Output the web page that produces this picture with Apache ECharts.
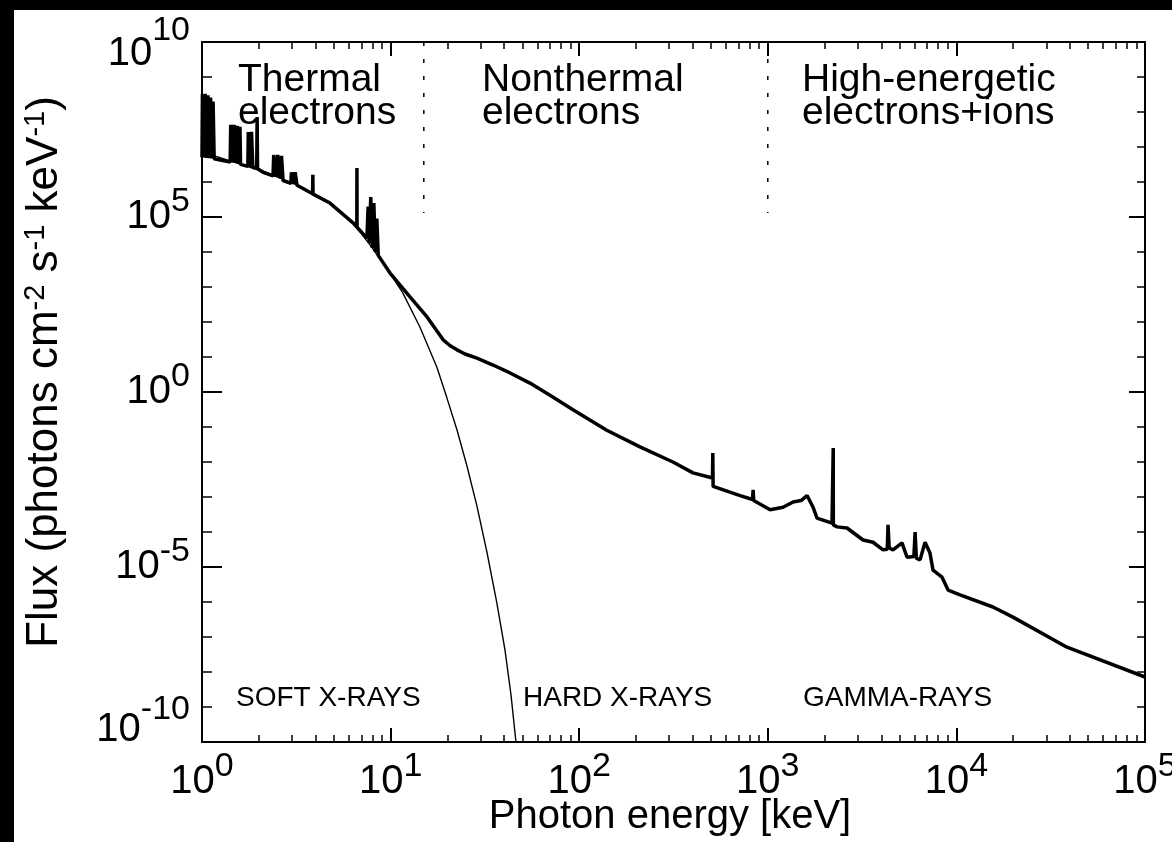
<!DOCTYPE html>
<html>
<head>
<meta charset="utf-8">
<script src="https://cdn.jsdelivr.net/npm/echarts@6/dist/echarts.min.js"></script>
<style>
html, body { margin: 0; padding: 0; background: #fff; overflow: hidden; }
#chart { width: 1172px; height: 842px; }
</style>
</head>
<body>
<div id="chart"></div>
<script>
// values: photon energy in keV, flux in photons cm^-2 s^-1 keV^-1
const totalEnergy = [
    1.0, 1.005, 1.02, 1.04, 1.055, 1.075, 1.09, 1.11, 1.13, 1.145,
    1.16, 1.41, 1.42, 1.45, 1.48, 1.51, 1.54, 1.57, 1.59, 1.6,
    1.75, 1.76, 1.80, 1.83, 1.86, 1.95, 1.96, 1.97, 2.11, 2.38,
    2.40, 2.46, 2.52, 2.58, 2.64, 2.69, 2.96, 2.98, 3.06, 3.12,
    3.19, 3.86, 3.87, 3.88, 4.77, 6.32, 6.62, 6.63, 6.64, 7.49,
    7.6, 7.7, 7.85, 8.0, 8.15, 8.3, 8.45, 8.6, 9.93, 12.7,
    15.6, 19.0, 20.7, 22.5, 24.8, 28.7, 34.9, 43.0, 54.8, 70,
    92.7, 140, 210, 314, 401, 509, 511, 513, 713, 830,
    836, 842, 1028, 1205, 1361, 1500, 1615, 1738, 1824, 2190,
    2220, 2223, 2226, 2328, 2630, 3199, 3614, 4083, 4300, 4340,
    4400, 4613, 5150, 5473, 5950, 6040, 6130, 6414, 6820, 7244,
    7517, 8391, 9036, 10450, 15630, 19950, 38560, 100000
]
const totalFlux = [
    5.1e6, 3.2e8, 5.0e6, 3.3e8, 4.9e6, 3.0e8, 4.8e6, 2.6e8, 4.7e6, 2.0e8,
    4.6e6, 3.7e6, 4.3e7, 3.6e6, 4.3e7, 3.5e6, 4.0e7, 3.3e6, 3.8e7, 3.2e6,
    2.8e6, 2.7e7, 2.7e6, 2.7e7, 2.6e6, 2.5e6, 7.2e7, 2.4e6, 1.9e6, 1.5e6,
    5.9e6, 1.4e6, 5.9e6, 1.3e6, 5.6e6, 1.1e6, 9.1e5, 1.9e6, 8.8e5, 1.9e6,
    8.1e5, 4.6e5, 1.6e6, 4.5e5, 2.5e5, 6.8e4, 5.2e4, 2.5e6, 5.1e4, 2.5e4,
    2.0e5, 1.8e4, 3.7e5, 1.3e4, 2.5e5, 1.0e4, 9.0e4, 8.0e3, 2.5e3, 510,
    140, 31, 21, 16, 12.2, 9.3, 5.9, 3.5, 1.8, 0.81,
    0.31, 0.081, 0.027, 0.010, 4.9e-3, 3.5e-3, 1.8e-2, 2.0e-3, 1.1e-3, 8.5e-4,
    1.6e-3, 7.9e-4, 4.3e-4, 5.1e-4, 7.2e-4, 7.9e-4, 1.1e-3, 5.1e-4, 2.5e-4, 1.8e-4,
    1.8e-4, 2.5e-2, 1.6e-4, 1.4e-4, 1.3e-4, 5.9e-5, 5.1e-5, 3.1e-5, 3.2e-5, 1.6e-4,
    3.5e-5, 3.1e-5, 4.9e-5, 1.9e-5, 2.0e-5, 1.0e-4, 1.8e-5, 1.6e-5, 5.1e-5, 2.5e-5,
    8.1e-6, 5.1e-6, 2.2e-6, 1.6e-6, 7.2e-7, 3.7e-7, 5.1e-8, 7.2e-9
]

// thermal component alone
const thermalEnergy = [1.0, 1.41, 2.11, 3.19, 4.77, 6.32, 7.78, 9.93, 11.6, 14.3, 17.6, 19.9, 22.5, 25.4, 28.7, 32.4, 36.6, 40.4, 43.5, 46.2]
const thermalFlux = [7.2e6, 4.0e6, 2.0e6, 8.3e5, 2.5e5, 6.8e4, 1.6e4, 2.5e3, 680, 72, 5.1, 0.67, 0.082, 7.7e-3, 5.5e-4, 2.7e-5, 9.3e-7, 4.3e-8, 2.2e-9, 1.0e-10]

// dotted boundaries between the particle regimes
const boundaryEnergy = [15, 1000]
const boundaryFlux = [1e10, 1.3e5]

const regionLabels = ['Thermal\nelectrons', 'Nonthermal\nelectrons', 'High-energetic\nelectrons+ions']
const bandLabels = ['SOFT X-RAYS', 'HARD X-RAYS', 'GAMMA-RAYS']
const xTitle = 'Photon energy [keV]'
const yTitle = 'Flux (photons cm{s|-2} s{s|-1} keV{s|-1})'

const xExponents = [0, 1, 2, 3, 4, 5]
const yExponents = [-10, -5, 0, 5, 10]

const font = 'Liberation Sans'
const pair = (xs, ys) => xs.map((x, i) => [x, ys[i]])

// minor ticks: 2..9 in every decade along x, every decade along y
let xMinor = []
for (let d = xExponents[0]; d < xExponents[xExponents.length - 1]; d++) {
    for (let k = 2; k <= 9; k++) xMinor.push(k * Math.pow(10, d))
}
let yMinor = []
for (let d = yExponents[0]; d <= yExponents[yExponents.length - 1]; d++) {
    if (yExponents.indexOf(d) < 0) yMinor.push(Math.pow(10, d))
}

function powLabel (v) {
    let e = Math.round(Math.log10(v))
    return '{b|10}{e|' + e + '}'
}

// end labels of the y axis sit inside the frame, like the original
function yPowLabel (v) {
    let e = Math.round(Math.log10(v))
    if (e === yExponents[yExponents.length - 1]) return '{bt|10}{et|' + e + '}'
    if (e === yExponents[0]) return '{bb|10}{eb|' + e + '}'
    return '{b|10}{e|' + e + '}'
}

const base = { fontFamily: font, fontSize: 40, color: '#000', verticalAlign: 'middle' }
const sup = { fontFamily: font, fontSize: 34, color: '#000', verticalAlign: 'middle' }
const tickRich = {
    b: base,
    e: Object.assign({}, sup, { padding: [0, 0, 30, 0] }),
    bt: Object.assign({}, base, { padding: [24, 0, 0, 0] }),
    et: Object.assign({}, sup, { padding: [0, 0, 22, 0] }),
    bb: Object.assign({}, base, { padding: [0, 0, 24, 0] }),
    eb: Object.assign({}, sup, { padding: [0, 0, 64, 0] })
}

const frameLine = { show: true, onZero: false, lineStyle: { color: '#000', width: 2 } }

function xAxis (pos, major, labels) {
    return {
        type: 'log', logBase: 10, min: 1, max: 1e5, interval: 1, position: pos,
        axisLine: major ? frameLine : { show: false },
        axisTick: major
            ? { inside: true, length: 14, lineStyle: { color: '#000', width: 2 } }
            : { inside: true, length: 7, customValues: xMinor, lineStyle: { color: '#000', width: 1.5 } },
        axisLabel: labels
            ? { margin: 8, formatter: powLabel, rich: tickRich }
            : { show: false },
        splitLine: { show: false },
        minorTick: { show: false }
    }
}

function yAxis (pos, major, labels) {
    let left = pos === 'left'
    return {
        type: 'log', logBase: 10, min: 1e-10, max: 1e10, interval: 5, position: pos,
        axisLine: major ? frameLine : { show: false },
        axisTick: major
            ? { inside: true, length: left ? 20 : 16, lineStyle: { color: '#000', width: 2 } }
            : { inside: true, length: left ? 10 : 8, customValues: yMinor, lineStyle: { color: '#000', width: 1.5 } },
        axisLabel: labels
            ? { margin: 12, formatter: yPowLabel, rich: tickRich }
            : { show: false },
        splitLine: { show: false },
        minorTick: { show: false }
    }
}

let boundarySeries = boundaryEnergy.map(e => ({
    type: 'line',
    data: [[e, boundaryFlux[0]], [e, boundaryFlux[1]]],
    showSymbol: false,
    silent: true,
    lineStyle: { color: '#000', width: 1.5, type: [4, 13] }
}))

let chart = echarts.init(document.getElementById('chart'))

chart.setOption({
    backgroundColor: '#fff',
    animation: false,
    grid: { left: 202, top: 42, right: 27, bottom: 100, outerBoundsMode: 'none', containLabel: false },
    xAxis: [xAxis('bottom', true, true), xAxis('bottom', false, false), xAxis('top', true, false), xAxis('top', false, false)],
    yAxis: [yAxis('left', true, true), yAxis('left', false, false), yAxis('right', true, false), yAxis('right', false, false)],
    series: [
        {
            type: 'line',
            data: pair(thermalEnergy, thermalFlux),
            showSymbol: false,
            lineStyle: { color: '#000', width: 1.4 },
            z: 2
        },
        {
            type: 'line',
            data: pair(totalEnergy, totalFlux),
            showSymbol: false,
            lineStyle: { color: '#000', width: 3.5 },
            z: 3
        }
    ].concat(boundarySeries),
    graphic: [
        { type: 'rect', left: 0, top: 0, shape: { width: 14, height: 842 }, style: { fill: '#000' } },
        { type: 'rect', left: 0, top: 0, shape: { width: 1172, height: 10 }, style: { fill: '#000' } },
        {
            type: 'text', x: 45, y: 372, rotation: Math.PI / 2,
            style: {
                text: yTitle,
                font: '44px ' + font, fill: '#000', align: 'center', verticalAlign: 'middle',
                rich: { s: { fontFamily: font, fontSize: 29, fill: '#000', padding: [0, 0, 18, 0] } }
            }
        },
        {
            type: 'text', x: 670, y: 817,
            style: { text: xTitle, font: '40px ' + font, fill: '#000', align: 'center', verticalAlign: 'middle' }
        },
        { type: 'text', x: 238, y: 64, style: { text: regionLabels[0], font: '39px ' + font, lineHeight: 33, fill: '#000' } },
        { type: 'text', x: 482, y: 64, style: { text: regionLabels[1], font: '39px ' + font, lineHeight: 33, fill: '#000' } },
        { type: 'text', x: 802, y: 64, style: { text: regionLabels[2], font: '39px ' + font, lineHeight: 33, fill: '#000' } },
        { type: 'text', x: 236, y: 684, style: { text: bandLabels[0], font: '28px ' + font, fill: '#000' } },
        { type: 'text', x: 523, y: 684, style: { text: bandLabels[1], font: '28px ' + font, fill: '#000' } },
        { type: 'text', x: 803, y: 684, style: { text: bandLabels[2], font: '28px ' + font, fill: '#000' } }
    ]
})
</script>
</body>
</html>
